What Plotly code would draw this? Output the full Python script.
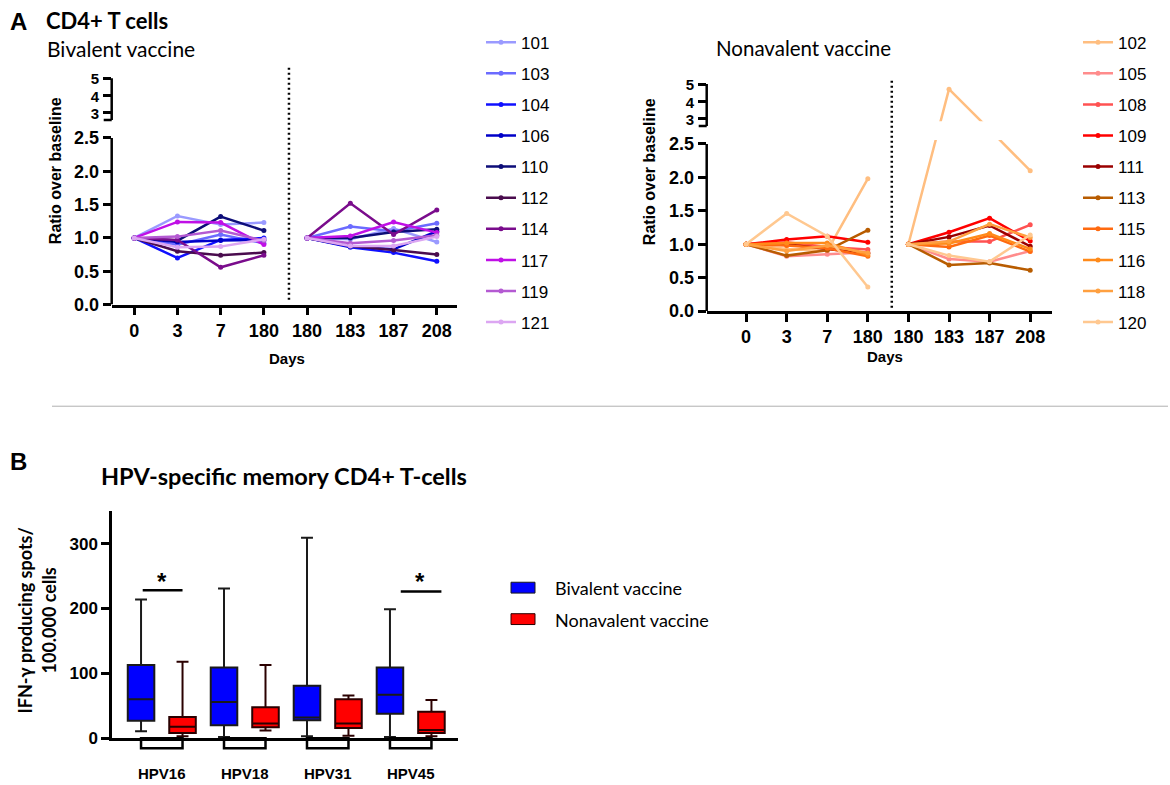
import plotly.graph_objects as go

W, H = 1170, 785

# ---------------- Panel A data ----------------
days = ["0", "3", "7", "180", "180", "183", "187", "208"]

biv_ids = ["101", "103", "104", "106", "110", "112", "114", "117", "119", "121"]
biv_colors = ["#9a9aff", "#6b6bff", "#1010ff", "#0000c8", "#0d0d78",
              "#4a0c4e", "#7a0c8c", "#c010e6", "#b45ad2", "#dca6f2"]
b101 = [1.00, 1.33, 1.20, 1.23, 1.00, 0.98, 1.14, 0.94]
b103 = [1.00, 0.90, 1.05, 0.92, 1.00, 1.17, 1.10, 1.22]
b104 = [1.00, 0.70, 0.97, 1.00, 1.00, 0.86, 0.78, 0.65]
b106 = [1.00, 0.94, 0.96, 0.97, 1.00, 0.87, 0.83, 1.10]
b110 = [1.00, 0.96, 1.32, 1.11, 1.00, 1.00, 1.09, 1.13]
b112 = [1.00, 0.80, 0.74, 0.78, 1.00, 0.88, 0.82, 0.75]
b114 = [1.00, 0.97, 0.56, 0.74, 1.00, 1.52, 1.05, 1.42]
b117 = [1.00, 1.24, 1.23, 0.90, 1.00, 1.03, 1.24, 1.08]
b119 = [1.00, 1.02, 1.11, 0.96, 1.00, 0.92, 0.96, 1.04]
b121 = [1.00, 0.86, 0.87, 0.98, 1.00, 0.88, 0.88, 1.02]
biv_values = [b101, b103, b104, b106, b110, b112, b114, b117, b119, b121]

non_ids = ["102", "105", "108", "109", "111", "113", "115", "116", "118", "120"]
non_colors = ["#ffbe80", "#ff8c8c", "#ff5252", "#ff0000", "#9a0000",
              "#b85c00", "#ff6a10", "#ff8a1a", "#ffa040", "#ffc890"]
n102 = [1.00, 0.93, 0.90, 1.98, 1.00, 4.70, 2.78, 2.10]
n105 = [1.00, 0.82, 0.85, 0.88, 1.00, 0.78, 0.74, 0.90]
n108 = [1.00, 1.03, 0.96, 0.92, 1.00, 1.04, 1.04, 1.29]
n109 = [1.00, 1.07, 1.12, 1.03, 1.00, 1.18, 1.39, 1.05]
n111 = [1.00, 1.00, 0.93, 0.86, 1.00, 1.11, 1.28, 0.97]
n113 = [1.00, 0.83, 0.91, 1.21, 1.00, 0.69, 0.72, 0.61]
n115 = [1.00, 0.98, 0.94, 0.82, 1.00, 0.96, 1.13, 0.89]
n116 = [1.00, 1.02, 1.02, 0.84, 1.00, 1.01, 1.16, 0.93]
n118 = [1.00, 0.90, 0.98, 0.87, 1.00, 1.04, 1.30, 1.10]
n120 = [1.00, 1.46, 1.12, 0.36, 1.00, 0.83, 0.74, 1.14]
non_values = [n102, n105, n108, n109, n111, n113, n115, n116, n118, n120]

ratio_ticks_low = [0.0, 0.5, 1.0, 1.5, 2.0, 2.5]
ratio_ticks_high = [3, 4, 5]

# ---------------- Panel B data ----------------
hpv_types = ["HPV16", "HPV18", "HPV31", "HPV45"]
biv_lo = [11, 2, 3, 2]
biv_q1 = [27, 20, 28, 38]
biv_med = [60, 56, 32, 67]
biv_q3 = [113, 109, 81, 109]
biv_hi = [214, 231, 309, 199]
non_lo = [3, 12, 4, 3]
non_q1 = [8, 17, 16, 8]
non_med = [18, 23, 23, 13]
non_q3 = [33, 48, 60, 41]
non_hi = [118, 113, 66, 59]
spots_ticks = [0, 100, 200, 300]


# broken-axis scale: 0-2.5 linear, compressed gap 2.5-3, 3-5 compressed
def brk(v):
    if v is None:
        return None
    if v <= 2.5:
        return v
    if v <= 3:
        return 2.5 + (v - 2.5) * 0.764
    return 2.882 + (v - 3) * 0.257


def series_xy(vals):
    xs, ys = [], []
    for i, v in enumerate(vals):
        if i == 4:
            xs.append(None)
            ys.append(None)
        xs.append(i)
        ys.append(brk(v))
    return xs, ys


def px_x(p):
    return p / W


def px_y(p):
    return 1 - p / H


ARIAL = "Liberation Sans, Arial, sans-serif"
TITLEF = "Lato, Liberation Sans, sans-serif"

fig = go.Figure()

for ids, cols, vals, xa, ya, lg in [
    (biv_ids, biv_colors, biv_values, "x", "y", "legend"),
    (non_ids, non_colors, non_values, "x2", "y2", "legend2"),
]:
    for sid, col, v in zip(ids, cols, vals):
        xs, ys = series_xy(v)
        fig.add_trace(go.Scatter(
            x=xs, y=ys, name=sid, mode="lines+markers",
            line=dict(color=col, width=2.5),
            marker=dict(color=col, size=5),
            connectgaps=False, xaxis=xa, yaxis=ya,
            legend=lg, legendgroup=sid, cliponaxis=False,
        ))

# Panel B boxes
fig.add_trace(go.Box(
    x=hpv_types, q1=biv_q1, median=biv_med, q3=biv_q3,
    lowerfence=biv_lo, upperfence=biv_hi, name="Bivalent vaccine",
    fillcolor="#0000ff", line=dict(color="#1a1a1a", width=2),
    whiskerwidth=0.45, boxpoints=False, xaxis="x3", yaxis="y3",
    showlegend=False,
))
fig.add_trace(go.Box(
    x=hpv_types, q1=non_q1, median=non_med, q3=non_q3,
    lowerfence=non_lo, upperfence=non_hi, name="Nonavalent vaccine",
    fillcolor="#ff0000", line=dict(color="#2a0000", width=2),
    whiskerwidth=0.45, boxpoints=False, xaxis="x3", yaxis="y3",
    showlegend=False,
))

tickfontA = dict(family=ARIAL, size=18, color="black", weight="bold")
tickfontB = dict(family=ARIAL, size=17, color="black", weight="bold")

ytv = [brk(v) for v in ratio_ticks_low + ratio_ticks_high]
ytt = (["%.1f" % v for v in ratio_ticks_low]
       + ["<span style='font-size:15px'>%d</span>" % v for v in ratio_ticks_high])

xcommon = dict(
    tickmode="array", tickvals=list(range(len(days))), ticktext=days,
    showline=True, linecolor="black", linewidth=2.5,
    ticks="outside", ticklen=8, tickwidth=2.5, tickcolor="black",
    tickfont=tickfontA, showgrid=False, zeroline=False, fixedrange=True,
)
ycommon = dict(
    tickmode="array", tickvals=ytv, ticktext=ytt,
    showline=False, ticks="outside", ticklen=8, tickwidth=2.5,
    tickcolor="black", tickfont=tickfontA, showgrid=False, zeroline=False,
    fixedrange=True,
)

legfont = dict(family=ARIAL, size=17, color="black")

fig.update_layout(
    width=W, height=H, margin=dict(l=0, r=0, t=0, b=0),
    paper_bgcolor="white", plot_bgcolor="white",
    boxmode="group", boxgap=0.0, boxgroupgap=0.36,
    xaxis=dict(domain=[px_x(111.7), px_x(456.7)], range=[-0.52, 7.46],
               anchor="y", **xcommon),
    yaxis=dict(domain=[px_y(306.7), px_y(65)],
               range=[0, (306.7 - 65) / 67.8], anchor="x", **ycommon),
    xaxis2=dict(domain=[px_x(706.7), px_x(1051.7)], range=[-0.97, 7.53],
                anchor="y2", **xcommon),
    yaxis2=dict(domain=[px_y(313.3), px_y(78)],
                range=[0, (313.3 - 78) / 68], anchor="x2", **ycommon),
    xaxis3=dict(domain=[px_x(112), px_x(458)], range=[-0.6, 3.57],
                anchor="y3", type="category", showline=True,
                linecolor="black", linewidth=2.5, ticks="",
                ticklabelstandoff=20, showgrid=False, zeroline=False,
                tickfont=dict(family=ARIAL, size=15, color="black",
                              weight="bold"), fixedrange=True),
    yaxis3=dict(domain=[px_y(747.7), px_y(516.7)], range=[0, 350],
                anchor="x3", tickmode="array", tickvals=spots_ticks,
                showline=True, linecolor="black", linewidth=2.5,
                ticks="outside", ticklen=8, tickwidth=2.5, tickcolor="black",
                tickfont=tickfontB, showgrid=False, zeroline=False,
                fixedrange=True),
    legend=dict(x=px_x(481), y=px_y(22), xanchor="left", yanchor="top",
                font=legfont, tracegroupgap=6,
                bgcolor="rgba(0,0,0,0)", itemwidth=30),
    legend2=dict(x=px_x(1078), y=px_y(22), xanchor="left", yanchor="top",
                 font=legfont, tracegroupgap=6,
                 bgcolor="rgba(0,0,0,0)", itemwidth=30),
)

shapes = []
# broken y-axis lines for panel A
for xd, yr in [("x domain", "y"), ("x2 domain", "y2")]:
    shapes.append(dict(type="line", xref=xd, yref=yr, x0=0, x1=0,
                       y0=0, y1=2.5, line=dict(color="black", width=2.5)))
    shapes.append(dict(type="line", xref=xd, yref=yr, x0=0, x1=0,
                       y0=brk(2.85), y1=brk(5), line=dict(color="black", width=2.5)))
    shapes.append(dict(type="line", xref=xd, yref=yr, xsizemode="pixel",
                       xanchor=0, x0=-8, x1=0, y0=brk(2.85), y1=brk(2.85),
                       line=dict(color="black", width=2.5)))
# white break band over traces on the right plot
shapes.append(dict(type="rect", xref="x2 domain", yref="y2", x0=0.01, x1=1,
                   y0=2.56, y1=2.84, fillcolor="white", line=dict(width=0),
                   layer="above"))
# dotted separators
shapes.append(dict(type="line", xref="x", yref="y domain", x0=3.58, x1=3.58,
                   y0=0.02, y1=1, line=dict(color="black", width=2.5, dash="2px,3px")))
shapes.append(dict(type="line", xref="x2", yref="y2 domain", x0=3.59, x1=3.59,
                   y0=0.015, y1=1, line=dict(color="black", width=2.5, dash="2px,3px")))
# separator between panels
shapes.append(dict(type="line", xref="paper", yref="paper", x0=px_x(52), x1=px_x(1168),
                   y0=px_y(410), y1=px_y(410), line=dict(color="#b0b0b0", width=1)))
# brackets under the HPV groups
for i in range(len(hpv_types)):
    shapes.append(dict(type="rect", xref="x3", yref="paper", x0=i - 0.25, x1=i + 0.25,
                       y0=px_y(757.7), y1=px_y(747.7), line=dict(color="black", width=2.5),
                       fillcolor="rgba(0,0,0,0)"))
# significance bars
shapes.append(dict(type="line", xref="x3", yref="y3", x0=-0.23, x1=0.25, y0=228, y1=228,
                   line=dict(color="black", width=2.5)))
shapes.append(dict(type="line", xref="x3", yref="y3", x0=2.88, x1=3.37, y0=226, y1=226,
                   line=dict(color="black", width=2.5)))
# legend boxes panel B
shapes.append(dict(type="rect", xref="paper", yref="paper", x0=px_x(511), x1=px_x(535),
                   y0=px_y(600), y1=px_y(589), fillcolor="#0000ff",
                   line=dict(color="#1a1a1a", width=1)))
shapes.append(dict(type="rect", xref="paper", yref="paper", x0=px_x(511), x1=px_x(535),
                   y0=px_y(632), y1=px_y(621), fillcolor="#ff0000",
                   line=dict(color="#2a0000", width=1)))
fig.update_layout(shapes=shapes)

ann = []


def txt(x, y, s, size, bold=False, family=ARIAL, xanchor="center", angle=0):
    ann.append(dict(x=px_x(x), y=px_y(y), xref="paper", yref="paper", text=s,
                    showarrow=False, xanchor=xanchor, yanchor="middle",
                    textangle=angle,
                    font=dict(family=family, size=size, color="black",
                              weight="bold" if bold else "normal")))


txt(8, 19, "A", 24, True, ARIAL, "left")
txt(44, 18, "CD4+ T cells", 22, True, TITLEF, "left")
txt(45, 46, "Bivalent vaccine", 21, False, TITLEF, "left")
txt(714, 46, "Nonavalent vaccine", 20.5, False, TITLEF, "left")
txt(55, 171, "Ratio over baseline", 16, True, ARIAL, angle=-90)
txt(649, 172, "Ratio over baseline", 16, True, ARIAL, angle=-90)
txt(287, 361, "Days", 15, True, ARIAL)
txt(885, 359, "Days", 15, True, ARIAL)
txt(8, 466, "B", 24, True, ARIAL, "left")
txt(99, 481, "HPV-specific memory CD4+ T-cells", 23.5, True, TITLEF, "left")
txt(37, 628, "IFN-γ producing spots/<br>100.000 cells", 18, True, TITLEF, angle=-90)
txt(553, 595, "Bivalent vaccine", 18, False, TITLEF, "left")
txt(553, 627, "Nonavalent vaccine", 18, False, TITLEF, "left")
ann.append(dict(x=0, y=242, xref="x3", yref="y3", text="*", showarrow=False,
                font=dict(family=ARIAL, size=24, color="black", weight="bold")))
ann.append(dict(x=3.11, y=242, xref="x3", yref="y3", text="*", showarrow=False,
                font=dict(family=ARIAL, size=24, color="black", weight="bold")))
fig.update_layout(annotations=ann)

fig.write_html("out.html", config={"displayModeBar": False},
               post_script="document.body.style.margin='0';")
